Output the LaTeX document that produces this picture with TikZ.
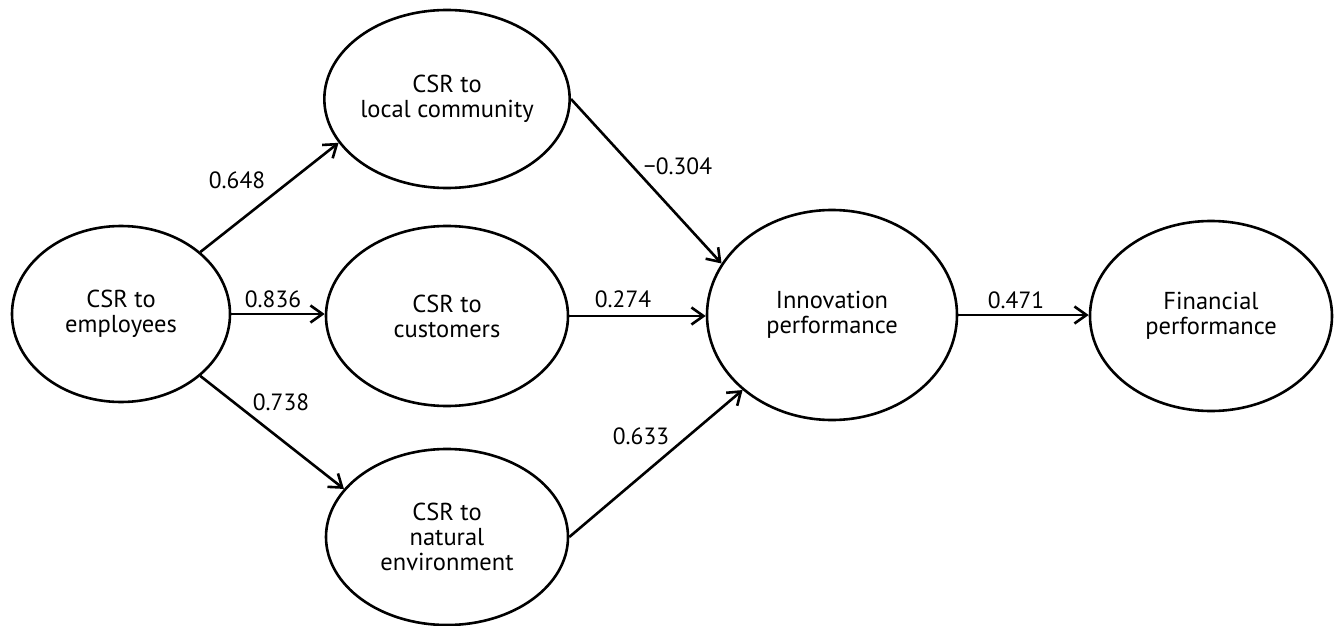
\documentclass[tikz,border=0pt]{standalone}
\usepackage{fontspec}
\setmainfont{PT Sans}
\usetikzlibrary{shapes.geometric,arrows.meta}
\begin{document}
\begin{tikzpicture}[x=1pt,y=-1pt,
    construct/.style={ellipse,draw,line width=2.6pt,inner sep=0pt,align=center,
      font=\fontsize{24.5}{25}\selectfont},
    coef/.style={inner sep=0pt,font=\fontsize{23.5}{25}\selectfont},
    every path/.style={line width=2.6pt},
    >={Straight Barb[length=12pt,width=17pt]}]
  \useasboundingbox (0,0) rectangle (1339,626);
  \node[construct,minimum width=218,minimum height=176] (emp) at (121,314) {CSR to\\employees};
  \node[construct,minimum width=242,minimum height=178] (loc) at (447,99) {CSR to\\local community};
  \node[construct,minimum width=242,minimum height=180] (cus) at (447,316) {CSR to\\customers};
  \node[construct,minimum width=242,minimum height=176] (nat) at (447,537) {CSR to\\natural\\environment};
  \node[construct,minimum width=250,minimum height=210] (inn) at (832,315) {Innovation\\performance};
  \node[construct,minimum width=242,minimum height=190] (fin) at (1211,316) {Financial\\performance};
  \begin{scope}[->]
    \draw (emp.38) to (loc.202);
    \draw (emp.east) to (emp.east -| cus.west);
    \draw (emp.322) to (nat.155);
    \draw (loc.east) to (inn.155);
    \draw (cus.east) to (cus.east -| inn.west);
    \draw (nat.east) to (inn.220);
    \draw (inn.east) to (inn.east -| fin.west);
  \end{scope}
  \node[coef] (c1) at (237,180) {0.648};
  \node[coef] (c2) at (273,299) {0.836};
  \node[coef] (c3) at (281,402) {0.738};
  \node[coef] (c4) at (678,166) {−0.304};
  \node[coef] (c5) at (623,299) {0.274};
  \node[coef] (c6) at (641,436) {0.633};
  \node[coef] (c7) at (1016,300) {0.471};
\end{tikzpicture}
\end{document}
